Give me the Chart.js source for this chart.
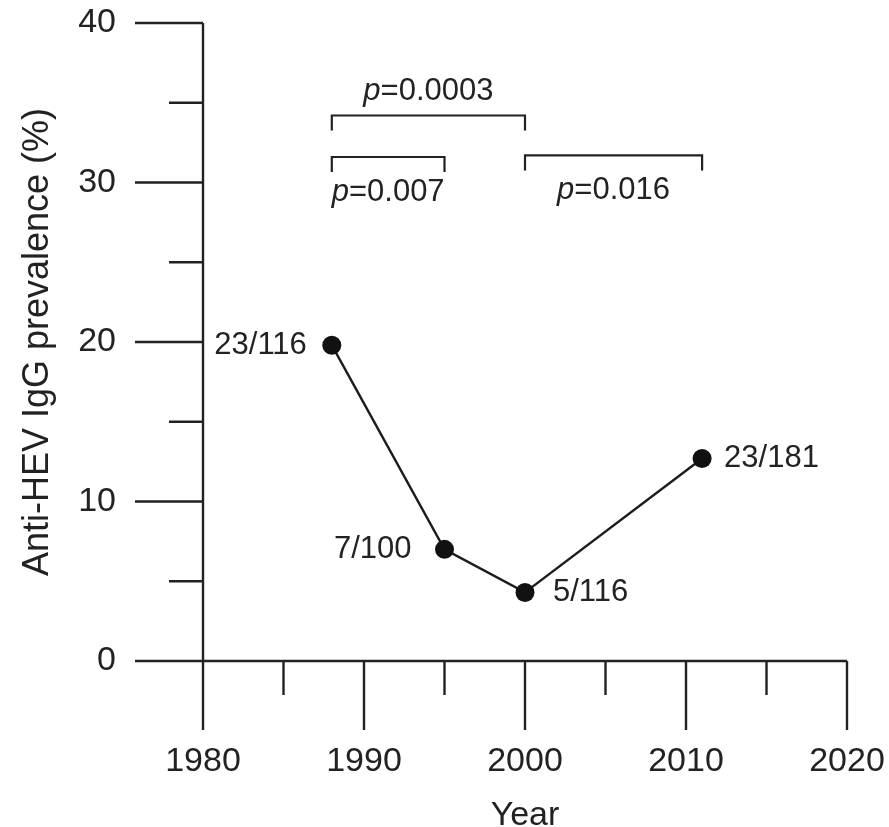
<!DOCTYPE html>
<html>
<head>
<meta charset="utf-8">
<script src="https://cdn.jsdelivr.net/npm/chart.js@4/dist/chart.umd.min.js"></script>
<style>
  html, body { margin: 0; padding: 0; background: #fff; }
</style>
</head>
<body>
<canvas id="myChart" width="889" height="827"></canvas>
<script>
// data
var years = [1988, 1995, 2000, 2011];
var prevalence = [19.8, 7.0, 4.3, 12.7];   // %
var counts = ['23/116', '7/100', '5/116', '23/181'];

// significance brackets
var bracketFrom = [1988, 1988, 2000];
var bracketTo = [2000, 1995, 2011];
var bracketLevel = [34.2, 31.6, 31.7];   // % on y axis
var pValues = ['0.0003', '0.007', '0.016'];

var FONT = "'Liberation Sans', Arial, Helvetica, sans-serif";
var INK = '#222';

// label placement (style only)
var labelDx = [-25, -33, 28, 22];
var pTextAbove = [true, false, false];

var drawExtras = {
  id: 'drawExtras',
  afterDraw: function (chart) {
    var ctx = chart.ctx;
    var xs = chart.scales.x, ys = chart.scales.y;
    var area = chart.chartArea;
    ctx.save();
    ctx.strokeStyle = INK;
    ctx.lineCap = 'butt';

    // axes
    ctx.lineWidth = 2.4;
    ctx.beginPath();
    ctx.moveTo(area.left, ys.getPixelForValue(40));
    ctx.lineTo(area.left, area.bottom);
    ctx.moveTo(area.left, area.bottom);
    ctx.lineTo(xs.getPixelForValue(2020), area.bottom);
    ctx.stroke();

    // x ticks, long on decades
    ctx.beginPath();
    for (var v = 1980; v <= 2020; v += 5) {
      var px = xs.getPixelForValue(v);
      var len = (v % 10 === 0) ? 69 : 34;
      ctx.moveTo(px, area.bottom);
      ctx.lineTo(px, area.bottom + len);
    }
    // y ticks
    for (var w = 0; w <= 40; w += 5) {
      var py = ys.getPixelForValue(w);
      var len2 = (w % 10 === 0) ? 68 : 34;
      ctx.moveTo(area.left - len2, py);
      ctx.lineTo(area.left, py);
    }
    ctx.stroke();

    // point labels
    ctx.fillStyle = INK;
    ctx.font = '31px ' + FONT;
    ctx.textBaseline = 'middle';
    for (var i = 0; i < years.length; i++) {
      var x = xs.getPixelForValue(years[i]);
      var y = ys.getPixelForValue(prevalence[i]);
      ctx.textAlign = labelDx[i] < 0 ? 'right' : 'left';
      ctx.fillText(counts[i], x + labelDx[i], y);
    }

    // brackets + p values
    ctx.lineWidth = 2.2;
    for (var j = 0; j < pValues.length; j++) {
      var x1 = xs.getPixelForValue(bracketFrom[j]);
      var x2 = xs.getPixelForValue(bracketTo[j]);
      var yb = ys.getPixelForValue(bracketLevel[j]);
      ctx.beginPath();
      ctx.moveTo(x1, yb + 15);
      ctx.lineTo(x1, yb);
      ctx.lineTo(x2, yb);
      ctx.lineTo(x2, yb + 15);
      ctx.stroke();

      var ty = pTextAbove[j] ? yb - 24 : yb + 35;
      ctx.font = 'italic 31px ' + FONT;
      var wp = ctx.measureText('p').width;
      ctx.font = '31px ' + FONT;
      var rest = '=' + pValues[j];
      var wr = ctx.measureText(rest).width;
      var sx = (x1 + x2) / 2 - (wp + wr) / 2;
      ctx.textAlign = 'left';
      ctx.font = 'italic 31px ' + FONT;
      ctx.fillText('p', sx, ty);
      ctx.font = '31px ' + FONT;
      ctx.fillText(rest, sx + wp, ty);
    }
    ctx.restore();
  }
};

var points = [];
for (var k = 0; k < years.length; k++) {
  points.push({ x: years[k], y: prevalence[k] });
}

new Chart('myChart', {
  type: 'line',
  data: {
    datasets: [{
      data: points,
      borderColor: '#1c1c1c',
      borderWidth: 2.4,
      pointRadius: 9.5,
      pointBackgroundColor: '#111',
      pointBorderWidth: 0,
      tension: 0
    }]
  },
  options: {
    responsive: false,
    animation: false,
    layout: { padding: { top: 23, right: 42, left: 0, bottom: 0 } },
    plugins: { legend: { display: false }, tooltip: { enabled: false } },
    scales: {
      x: {
        type: 'linear',
        min: 1980,
        max: 2020,
        border: { display: false },
        grid: { drawOnChartArea: false, tickLength: 69, tickColor: 'transparent' },
        ticks: {
          stepSize: 5,
          autoSkip: false,
          maxRotation: 0,
          padding: 11,
          color: INK,
          font: { family: FONT, size: 34 },
          callback: function (v) { return v % 10 === 0 ? String(v) : ''; }
        },
        title: {
          display: true,
          text: 'Year',
          color: INK,
          font: { family: FONT, size: 34 },
          padding: { top: 0, bottom: -9 }
        },
        afterFit: function (s) { s.height = 166; s.paddingLeft = 0; s.paddingRight = 0; }
      },
      y: {
        min: 0,
        max: 40,
        border: { display: false },
        grid: { drawOnChartArea: false, tickLength: 68, tickColor: 'transparent' },
        ticks: {
          stepSize: 10,
          padding: 19,
          color: INK,
          font: { family: FONT, size: 34 }
        },
        title: {
          display: true,
          text: 'Anti-HEV IgG prevalence (%)',
          color: INK,
          font: { family: FONT, size: 36 },
          padding: { top: 16, bottom: 0 }
        },
        afterFit: function (s) { s.width = 203; s.paddingTop = 0; s.paddingBottom = 0; }
      }
    }
  },
  plugins: [drawExtras]
});
</script>
</body>
</html>
